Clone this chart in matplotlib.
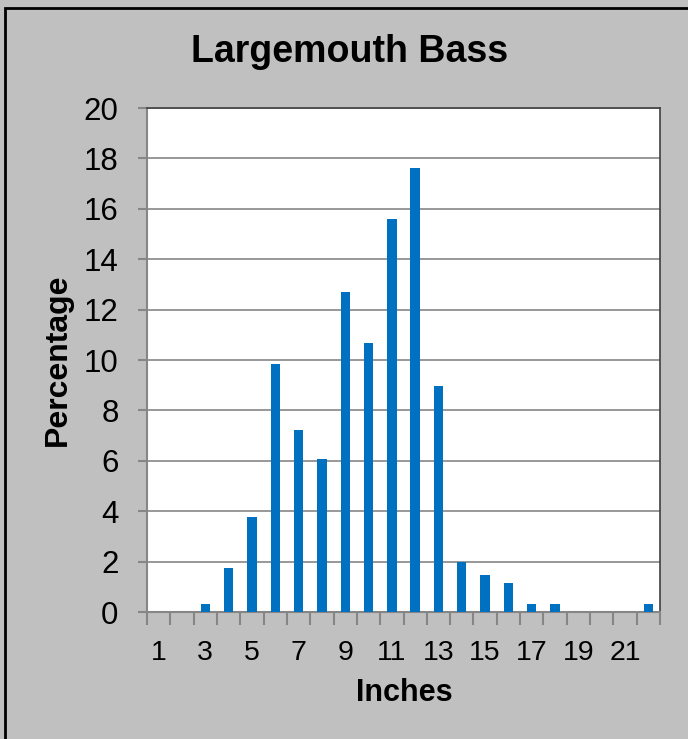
"""
Length frequency of largemouth bass, percentage by inch class.
"""
import numpy as np
import matplotlib
matplotlib.use('Agg')
import matplotlib.pyplot as plt
from matplotlib.patches import Rectangle

inches = list(range(1, 23))
percentage = [0, 0, 0.3, 1.75, 3.77, 9.85, 7.22, 6.07, 12.7, 10.67, 15.6,
              17.6, 8.97, 1.98, 1.47, 1.17, 0.3, 0.3, 0, 0, 0, 0.3]
tick_labels = [str(i) if i % 2 == 1 else '' for i in inches]

plt.rcParams['font.family'] = ['Liberation Sans', 'DejaVu Sans']

fig = plt.figure(figsize=(6.88, 7.39), dpi=100, facecolor='#c0c0c0')
ax = fig.add_axes([147/688, 1-612/739, 513/688, 504/739])

# outer border (left and top only visible)
fig.patches.append(Rectangle((5/688, -0.1), 1.2, 1 - 8/739 + 0.1, transform=fig.transFigure,
                             fill=False, edgecolor='black', linewidth=2))

x = np.arange(len(inches))
ax.bar(x, percentage, width=0.4, color='#0070c0', zorder=3)

# format axes
ax.set_xlim(-0.5, len(inches) - 0.5)
ax.set_ylim(0, 20)
ax.set_yticks(np.arange(0, 21, 2))
ax.set_xticks(x)
ax.set_xticklabels(tick_labels)
ax.set_xticks(np.arange(-0.5, len(inches), 1), minor=True)
ax.tick_params(axis='x', which='major', length=0, labelsize=20.5, pad=20)
ax.tick_params(axis='x', which='minor', length=9, color='#868686', width=1.5)
ax.tick_params(axis='y', length=6.5, color='#868686', width=1.5, labelsize=22.5, pad=14)
ax.grid(axis='y', color='#868686', linewidth=1.2, zorder=0)

for side in ['left', 'bottom']:
    ax.spines[side].set_color('#868686')
    ax.spines[side].set_linewidth(1.5)
for side in ['top', 'right']:
    ax.spines[side].set_color('#404040')
    ax.spines[side].set_linewidth(1.2)

fig.text(350/688, 1-52/739, 'Largemouth Bass', ha='center', va='center',
         fontsize=27, fontweight='bold')
fig.text(404/688, 1-693/739, 'Inches', ha='center', va='center',
         fontsize=22, fontweight='bold')
fig.text(58/688, 1-360/739, 'Percentage', ha='center', va='center',
         rotation=90, fontsize=23, fontweight='bold')

fig.savefig('out.png', dpi=100, facecolor=fig.get_facecolor())
